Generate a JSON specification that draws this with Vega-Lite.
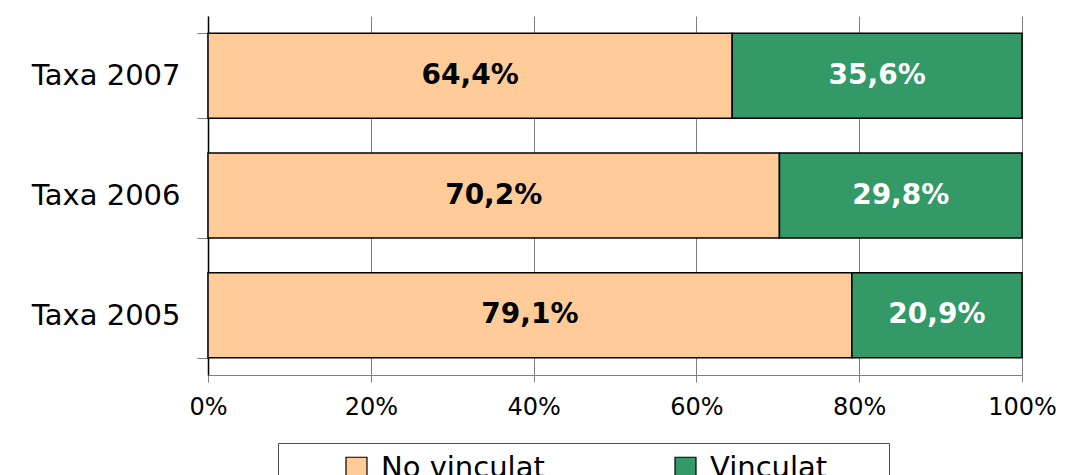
{
  "$schema": "https://vega.github.io/schema/vega-lite/v6.json",
  "width": 814,
  "height": 359,
  "autosize": {"type": "none"},
  "padding": {"left": 208, "top": 16, "right": 43, "bottom": 100},
  "background": "white",
  "config": {
    "font": "DejaVu Sans",
    "view": {"stroke": null},
    "locale": {"number": {"decimal": ",", "thousands": ".", "grouping": [3], "currency": ["", " €"]}}
  },
  "data": {
    "values": [
      {"year": "Taxa 2007", "category": "No vinculat", "value": 0.644},
      {"year": "Taxa 2007", "category": "Vinculat", "value": 0.356},
      {"year": "Taxa 2006", "category": "No vinculat", "value": 0.702},
      {"year": "Taxa 2006", "category": "Vinculat", "value": 0.298},
      {"year": "Taxa 2005", "category": "No vinculat", "value": 0.791},
      {"year": "Taxa 2005", "category": "Vinculat", "value": 0.209}
    ]
  },
  "transform": [
    {"stack": "value", "groupby": ["year"], "sort": [{"field": "category", "order": "ascending"}], "as": ["v0", "v1"]},
    {"calculate": "(datum.v0 + datum.v1) / 2", "as": "mid"}
  ],
  "encoding": {
    "y": {
      "field": "year", "type": "nominal",
      "sort": ["Taxa 2007", "Taxa 2006", "Taxa 2005"],
      "scale": {"paddingInner": 0.29, "paddingOuter": 0.145},
      "axis": {
        "title": null, "tickBand": "extent", "ticks": true, "tickSize": 11,
        "tickColor": "#808080", "domainColor": "#000000", "domainWidth": 1.5,
        "labelFontSize": 29, "labelColor": "#000000", "labelPadding": 17,
        "labelFont": "DejaVu Sans"
      }
    }
  },
  "layer": [
    {
      "mark": {"type": "bar", "stroke": "#000000", "strokeWidth": 1.5},
      "encoding": {
        "x": {
          "field": "v0", "type": "quantitative",
          "scale": {"domain": [0, 1], "nice": false},
          "axis": {
            "title": null, "format": "0%", "values": [0, 0.2, 0.4, 0.6, 0.8, 1],
            "grid": true, "gridColor": "#808080", "gridWidth": 1,
            "domainColor": "#808080", "tickColor": "#808080", "tickSize": 7,
            "labelFontSize": 24, "labelColor": "#000000", "labelPadding": 13,
            "labelFont": "DejaVu Sans", "labelOverlap": false, "labelFlush": false
          }
        },
        "x2": {"field": "v1"},
        "color": {
          "field": "category", "type": "nominal",
          "scale": {"domain": ["No vinculat", "Vinculat"], "range": ["#FFCC99", "#339966"]},
          "legend": {
            "title": " ", "titleOrient": "right", "titlePadding": 52, "titleFontSize": 29,
            "orient": "none", "legendX": 70, "legendY": 427,
            "direction": "horizontal", "columns": 2, "columnPadding": 72,
            "padding": 10, "strokeColor": "#505050", "fillColor": "white",
            "symbolType": "square", "symbolSize": 440, "symbolStrokeColor": "#000000",
            "symbolStrokeWidth": 1.2, "labelFontSize": 29, "labelColor": "#000000",
            "labelOffset": 10, "labelLimit": 400, "labelFont": "DejaVu Sans",
            "symbolOffset": 54
          }
        }
      }
    },
    {
      "mark": {"type": "text", "fontSize": 28, "fontWeight": "bold", "font": "DejaVu Sans", "baseline": "middle", "align": "center"},
      "encoding": {
        "x": {"field": "mid", "type": "quantitative"},
        "text": {"field": "value", "type": "quantitative", "format": ".1%"},
        "color": {"condition": {"test": "datum.category == 'Vinculat'", "value": "white"}, "value": "black"}
      }
    }
  ]
}
